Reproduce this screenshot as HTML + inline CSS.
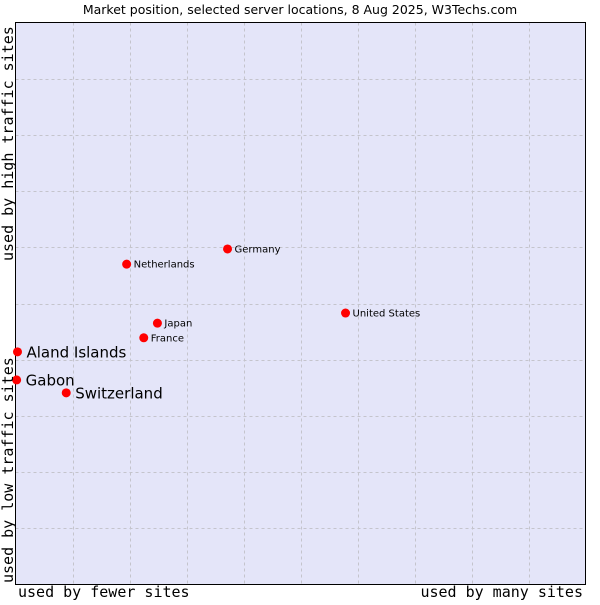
<!DOCTYPE html>
<html><head><meta charset="utf-8"><style>
body{margin:0;background:#fff;width:600px;height:600px;overflow:hidden}
svg text{font-family:"DejaVu Sans","Liberation Sans",sans-serif}
</style></head><body>
<svg width="600" height="600">
<text x="300" y="14" text-anchor="middle" font-size="12.5" fill="#000">Market position, selected server locations, 8 Aug 2025, W3Techs.com</text>
<rect x="15.5" y="22.5" width="570" height="562" fill="#e4e5f9" stroke="none"/>
<g id="grid"></g>
<line x1="15.5" y1="22" x2="15.5" y2="585" stroke="#000"/>
<line x1="15" y1="22.5" x2="586" y2="22.5" stroke="#000"/>
<line x1="585.5" y1="22" x2="585.5" y2="585" stroke="#000"/>
<line x1="15" y1="584.5" x2="586" y2="584.5" stroke="#000"/>
<g id="points"></g>
<text x="18" y="597" style="font-family:'DejaVu Sans Mono','Liberation Mono',monospace" font-size="15">used by fewer sites</text>
<text x="583" y="597" text-anchor="end" style="font-family:'DejaVu Sans Mono','Liberation Mono',monospace" font-size="15">used by many sites</text>
<text transform="translate(13,583) rotate(-90)" style="font-family:'DejaVu Sans Mono','Liberation Mono',monospace" font-size="15">used by low traffic sites</text>
<text transform="translate(13,261) rotate(-90)" style="font-family:'DejaVu Sans Mono','Liberation Mono',monospace" font-size="15">used by high traffic sites</text>
</svg>
<script>
const names=["Aland Islands","Gabon","Switzerland","France","Japan","Netherlands","Germany","United States"];
const xVals=[0.35,0.2,8.9,22.5,24.9,19.5,37.2,57.9];
const yVals=[41.4,36.4,34.1,43.9,46.5,57.0,59.7,48.3];
const highlighted=[true,true,true,false,false,false,false,false];
const NS="http://www.w3.org/2000/svg";
const X0=15.5,X1=585.5,Y0=584.5,Y1=22.5;
const sx=v=>X0+(X1-X0)*v/100, sy=v=>Y0-(Y0-Y1)*v/100;
const grid=document.getElementById('grid');
for(let i=1;i<10;i++){
 const v=document.createElementNS(NS,'line');
 
 
 const x=Math.round(sx(i*10))+0.5;
 v.setAttribute('x1',x);v.setAttribute('x2',x);v.setAttribute('y1',Y1);v.setAttribute('y2',Y0);
 v.setAttribute('stroke','#c4c4cc');v.setAttribute('stroke-dasharray','3,3');grid.appendChild(v);
 const h=document.createElementNS(NS,'line');
 
 
 const y=Math.round(sy(i*10))+0.5;
 h.setAttribute('y1',y);h.setAttribute('y2',y);h.setAttribute('x1',X0);h.setAttribute('x2',X1);
 h.setAttribute('stroke','#c4c4cc');h.setAttribute('stroke-dasharray','3,3');grid.appendChild(h);
}
const pts=document.getElementById('points');
names.forEach((n,i)=>{
 const cx=sx(xVals[i]),cy=sy(yVals[i]);
 const c=document.createElementNS(NS,'circle');
 
 
 c.setAttribute('cx',cx);c.setAttribute('cy',cy);c.setAttribute('r',4.5);c.setAttribute('fill','#f00');
 pts.appendChild(c);
 const t=document.createElementNS(NS,'text');
 
 
 const big=highlighted[i];
 t.setAttribute('x',cx+(big?9:7));t.setAttribute('y',cy+(big?5.5:3.5));
 t.setAttribute('font-size',big?15:10);t.setAttribute('fill','#000');
 t.textContent=n;pts.appendChild(t);
});
</script>
</body></html>
